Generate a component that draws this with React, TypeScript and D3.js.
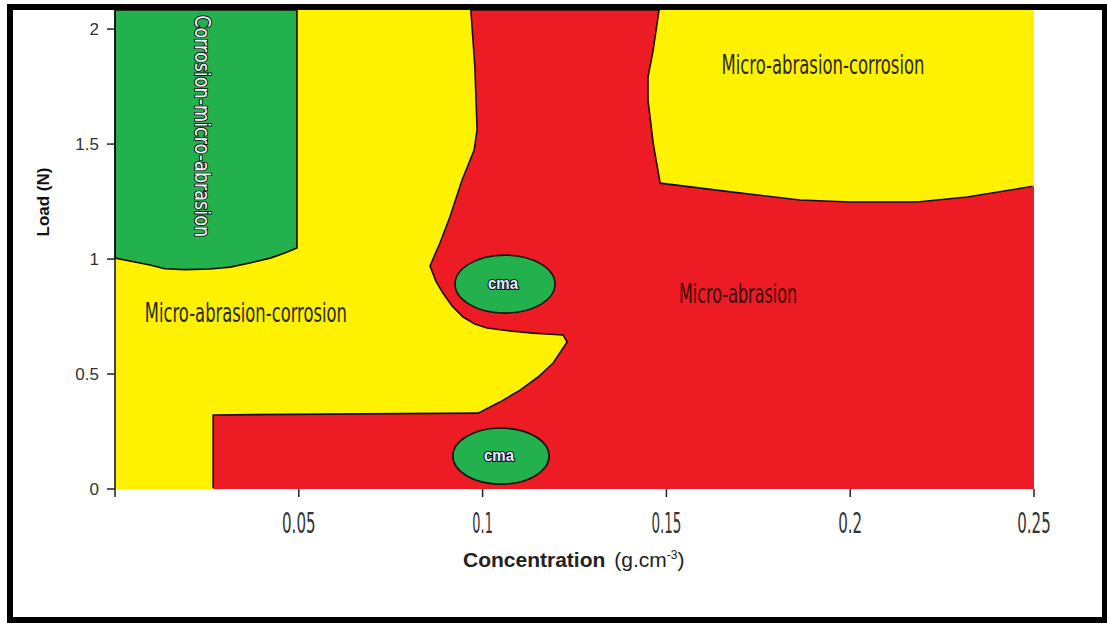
import React from 'react';
import * as d3 from 'd3';

// ---- axis data ----
const xTickValues = [0, 0.05, 0.1, 0.15, 0.2, 0.25];
const xTickLabels = ['', '0.05', '0.1', '0.15', '0.2', '0.25'];
const yTickValues = [0, 0.5, 1, 1.5, 2];
const yTickLabels = ['0', '0.5', '1', '1.5', '2'];
const xDomain: [number, number] = [0, 0.25];
const yDomain: [number, number] = [0, 2.083];

// ---- regime map regions, [concentration (g.cm-3), load (N)] ----
const greenRegion: [number, number][] = [
  [0, 2.083], [0.0495, 2.083], [0.0495, 1.048], [0.0462, 1.026], [0.0422, 1.004],
  [0.0367, 0.983], [0.0313, 0.965], [0.0258, 0.957], [0.019, 0.954], [0.0136, 0.958],
  [0.0095, 0.974], [0.0054, 0.987], [0, 1.004],
];

const redRegion: [number, number][] = [
  [0.0968, 2.083], [0.0979, 1.835], [0.0985, 1.561], [0.0977, 1.474], [0.0944, 1.343],
  [0.0911, 1.183], [0.0884, 1.07], [0.0857, 0.97], [0.0873, 0.904], [0.0892, 0.852],
  [0.0917, 0.796], [0.0947, 0.748], [0.0979, 0.717], [0.1012, 0.7], [0.1075, 0.687],
  [0.1137, 0.678], [0.1219, 0.67], [0.123, 0.639], [0.1192, 0.548], [0.1151, 0.487],
  [0.1102, 0.43], [0.1047, 0.378], [0.0988, 0.33], [0.0267, 0.322], [0.0267, 0],
  [0.25, 0], [0.25, 1.317], [0.2318, 1.27], [0.2182, 1.248], [0.2, 1.248],
  [0.1863, 1.257], [0.1681, 1.291], [0.1483, 1.33], [0.1464, 1.504], [0.145, 1.691],
  [0.145, 1.791], [0.1464, 1.909], [0.148, 2.083],
];

// cma islands: centre concentration, centre load, half-width, half-height
const cmaX = [0.1061, 0.105];
const cmaY = [0.891, 0.143];
const cmaRx = [0.0136, 0.0131];
const cmaRy = [0.126, 0.122];

// region names and their anchor (data units)
const regionNames = ['Corrosion-micro-abrasion', 'Micro-abrasion-corrosion', 'Micro-abrasion', 'Micro-abrasion-corrosion'];
const regionNameX = [0.0218, 0.0356, 0.1695, 0.1926];
const regionNameY = [1.578, 0.727, 0.81, 1.805];

const W = 1107;
const H = 623;
const plot = { left: 115, right: 1034, top: 10, bottom: 489 };

const YELLOW = '#FFF200';
const RED = '#ED1C24';
const GREEN = '#22B14C';
const COND_FONT = "'Liberation Sans Narrow', 'DejaVu Sans Condensed', Roboto, sans-serif";
const ARIAL = "'Liberation Sans', Arial, sans-serif";

export default function App() {
  const x = d3.scaleLinear().domain(xDomain).range([plot.left, plot.right]);
  const y = d3.scaleLinear().domain(yDomain).range([plot.bottom, plot.top]);
  const area = d3.line<[number, number]>().x(d => x(d[0])).y(d => y(d[1])).curve(d3.curveLinearClosed);

  const nameStyles = [
    { len: 222, fs: 22, fill: '#f4f4ff', stroke: '#111', sw: 2, rot: 90 },
    { len: 202, fs: 26, fill: '#2a2a12', stroke: 'none', sw: 0, rot: 0 },
    { len: 118, fs: 26, fill: '#3a0808', stroke: 'none', sw: 0, rot: 0 },
    { len: 203, fs: 26, fill: '#2a2a12', stroke: 'none', sw: 0, rot: 0 },
  ];
  const xLabelLen = (s: string) => s.split('').reduce((a, c) => a + (c === '.' ? 5 : c === '1' ? 6 : 9.5), 0);

  return (
    <svg width={W} height={H} style={{ position: 'absolute', left: 0, top: 0, background: '#fff' }}>
      <defs>
        <clipPath id="plotClip">
          <rect x={plot.left} y={plot.top} width={plot.right - plot.left} height={plot.bottom - plot.top} />
        </clipPath>
        <clipPath id="strokeClip">
          <rect x={plot.left - 2} y={plot.top} width={plot.right - plot.left + 0.5} height={plot.bottom - plot.top - 1} />
        </clipPath>
      </defs>
      <rect x={0} y={0} width={W} height={H} fill="#fff" />
      <g clipPath="url(#plotClip)">
        <rect x={plot.left} y={plot.top} width={plot.right - plot.left} height={plot.bottom - plot.top} fill={YELLOW} />
        <path d={area(redRegion) || ''} fill={RED} />
        <path d={area(greenRegion) || ''} fill={GREEN} />
      </g>
      <g clipPath="url(#strokeClip)" fill="none" stroke="#1a0a05" strokeWidth={1.6}>
        <path d={area(redRegion) || ''} />
        <path d={area(greenRegion) || ''} />
      </g>
      {cmaX.map((cx, i) => (
        <g key={'cma' + i}>
          <ellipse cx={x(cx)} cy={y(cmaY[i])} rx={x(cmaRx[i]) - x(0)} ry={y(0) - y(cmaRy[i])}
            fill={GREEN} stroke="#111" strokeWidth={1.6} />
          <text x={x(cx) - 2} y={y(cmaY[i]) + 5} textAnchor="middle" fontFamily={ARIAL} fontWeight="bold"
            fontSize={17} textLength={30} lengthAdjust="spacingAndGlyphs" fill="#e8eeff" stroke="#0a0a20"
            strokeWidth={2.2} style={{ paintOrder: 'stroke' }}>cma</text>
        </g>
      ))}
      {regionNames.map((name, i) => {
        const st = nameStyles[i];
        const px = x(regionNameX[i]);
        const py = y(regionNameY[i]);
        return (
          <text key={'rn' + i} transform={`translate(${px},${py}) rotate(${st.rot})`} textAnchor="middle"
            fontFamily={COND_FONT} fontSize={st.fs} textLength={st.len} lengthAdjust="spacingAndGlyphs"
            fill={st.fill} stroke={st.stroke} strokeWidth={st.sw} style={{ paintOrder: 'stroke' }}>{name}</text>
        );
      })}
      {/* y axis */}
      <line x1={plot.left} x2={plot.left} y1={plot.top} y2={plot.bottom} stroke="#111" strokeWidth={1.5} />
      {yTickValues.map((v, i) => (
        <g key={'yt' + i}>
          <line x1={plot.left - 8} x2={plot.left} y1={y(v)} y2={y(v)} stroke="#222" strokeWidth={1.5} />
          <text x={99} y={y(v) + 6} textAnchor="end" fontFamily={ARIAL} fontSize={17} fill="#333">{yTickLabels[i]}</text>
        </g>
      ))}
      {/* x axis ticks */}
      {xTickValues.map((v, i) => (
        <g key={'xt' + i}>
          <line x1={x(v)} x2={x(v)} y1={plot.bottom} y2={plot.bottom + 8} stroke="#222" strokeWidth={1.5} />
          {xTickLabels[i] && (
            <text x={x(v)} y={533} textAnchor="middle" fontFamily={COND_FONT} fontSize={28}
              textLength={xLabelLen(xTickLabels[i])} lengthAdjust="spacingAndGlyphs" fill="#333">{xTickLabels[i]}</text>
          )}
        </g>
      ))}
      {/* axis titles */}
      <text x={463} y={567} fontFamily={ARIAL} fontSize={21} fill="#222">
        <tspan fontWeight="bold">Concentration</tspan>
        <tspan dx={9}>(g.cm</tspan>
        <tspan dy={-8} fontSize={12}>-3</tspan>
        <tspan dy={8}>)</tspan>
      </text>
      <text transform="translate(49,202) rotate(-90)" textAnchor="middle" fontFamily={ARIAL} fontWeight="bold"
        fontSize={17} fill="#111">Load (N)</text>
      {/* frame */}
      <rect x={10} y={7} width={1095} height={613} fill="none" stroke="#000" strokeWidth={6} />
    </svg>
  );
}
